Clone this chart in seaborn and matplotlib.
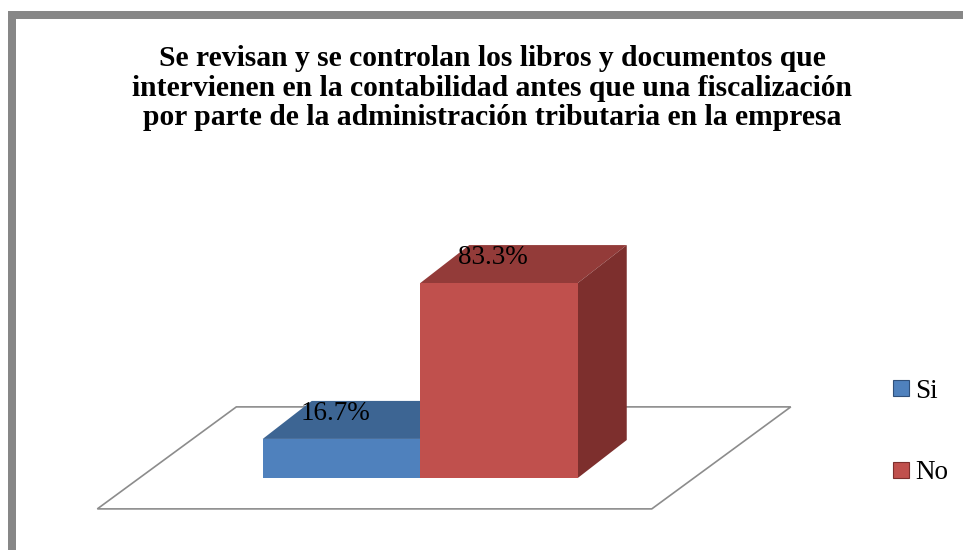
import matplotlib
matplotlib.use("Agg")
import matplotlib.pyplot as plt
import seaborn as sns
from matplotlib.patches import Polygon, Rectangle, Patch

# data
categories = ["Si", "No"]
values = [16.7, 83.3]
colors_front = ["#4F81BD", "#C0504D"]
colors_top = ["#3D6593", "#933B39"]
colors_side = ["#30507A", "#7D2F2D"]
title = ("Se revisan y se controlan los libros y documentos que\n"
         "intervienen en la contabilidad antes que una fiscalización\n"
         "por parte de la administración tributaria en la empresa")

sns.set_style("white")
plt.rcParams["font.family"] = ["Liberation Serif", "DejaVu Serif"]
plt.rcParams["text.color"] = "black"

W, H = 963, 550
fig = plt.figure(figsize=(W / 100, H / 100), dpi=100)
fig.patch.set_facecolor("white")

# axes box in pixels (left, top, right, bottom)
L, T, R, B = 80, 200, 800, 530
ax = fig.add_axes([L / W, 1 - B / H, (R - L) / W, (B - T) / H])
xlim = (-1.660, 2.911)
ylim = (-22.22, 118.8)
ppx = (R - L) / (xlim[1] - xlim[0])
ppy = (B - T) / (ylim[1] - ylim[0])

# depth offset of the 3D look, in data units
dx, dy = 49 / ppx, 38 / ppy

sns.barplot(x=categories, y=values, hue=categories, palette=colors_front,
            width=1.0, saturation=1, legend=False, ax=ax, linewidth=0)
ax.set_xlim(*xlim)
ax.set_ylim(*ylim)
ax.axis("off")

# floor of the 3D plot
fdx, fdy = 139 / ppx, 102 / ppy
f0, f1, fy = -1.55, 1.97, -13.2
floor = Polygon([(f0, fy), (f1, fy), (f1 + fdx, fy + fdy), (f0 + fdx, fy + fdy)],
                closed=True, facecolor="white", edgecolor="#8C8C8C",
                linewidth=1.2, zorder=0.5)
ax.add_patch(floor)

for i, (p, v) in enumerate(zip(ax.patches, values)):
    x0 = p.get_x()
    x1 = x0 + p.get_width()
    h = p.get_height()
    p.set_zorder(2 + 2 * i)
    top = Polygon([(x0, h), (x1, h), (x1 + dx, h + dy), (x0 + dx, h + dy)],
                  closed=True, facecolor=colors_top[i], edgecolor="none",
                  zorder=1.5 + 2 * i)
    side = Polygon([(x1, 0), (x1, h), (x1 + dx, h + dy), (x1 + dx, dy)],
                   closed=True, facecolor=colors_side[i], edgecolor="none",
                   zorder=1.5 + 2 * i)
    ax.add_patch(top)
    ax.add_patch(side)
    ax.text(x0 + p.get_width() / 2 - 0.04, h + 11, f"{v:.1f}%",
            ha="center", va="center", fontsize=19.5, zorder=10)

fig.text(492 / W, 1 - 88 / H, title, ha="center", va="center",
         fontsize=21.3, fontweight="bold", linespacing=1.13)

handles = [Patch(facecolor=c, edgecolor=s, linewidth=0.8)
           for c, s in zip(colors_front, colors_side)]
fig.legend(handles, categories, loc="center left",
           bbox_to_anchor=(893 / W, 1 - 432 / H), frameon=False,
           fontsize=19.5, handlelength=0.59, handleheight=0.56,
           handletextpad=0.22, labelspacing=2.1, borderpad=0,
           borderaxespad=0)

# grey chart-area frame (runs off the right and bottom edges)
frame = Rectangle((12 / W, -0.1), 1.1, 1 - 15 / H + 0.1,
                  transform=fig.transFigure, fill=False,
                  edgecolor="#878787", linewidth=8 * 0.72)
fig.patches.append(frame)

fig.savefig("out.png", dpi=100)
